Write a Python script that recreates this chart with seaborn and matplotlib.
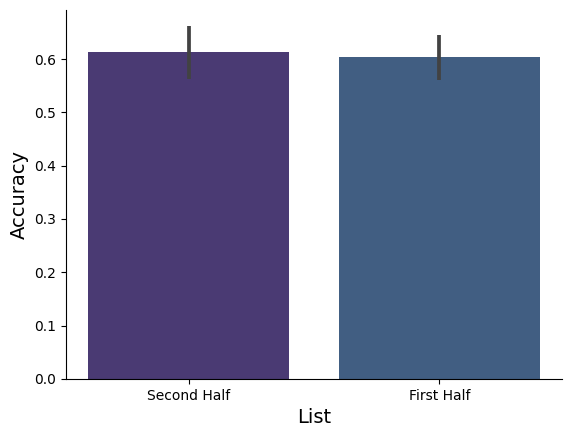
import matplotlib
matplotlib.use("Agg")
import matplotlib.pyplot as plt
import seaborn as sns
import pandas as pd
import numpy as np

lists = ["Second Half", "First Half"]
accuracy = [0.613, 0.604]
ci_low = [0.563, 0.561]
ci_high = [0.662, 0.645]
colors = ["#4a3a73", "#415e82"]

df = pd.DataFrame({"List": lists, "Accuracy": accuracy})

fig, ax = plt.subplots(figsize=(5.72, 4.37), dpi=100)
fig.subplots_adjust(left=0.115, right=0.983, top=0.977, bottom=0.133)

sns.barplot(data=df, x="List", y="Accuracy", hue="List", palette=colors,
            saturation=1, errorbar=None, legend=False, ax=ax)

# intervalos de error
x = np.arange(len(lists))
ax.vlines(x, ci_low, ci_high, color=".26", linewidth=2.7, zorder=3)

ax.set_ylim(0, 0.692)
ax.set_xlabel("List", fontsize=14)
ax.set_ylabel("Accuracy", fontsize=14)
sns.despine(ax=ax)

fig.savefig("out.png", dpi=100)
